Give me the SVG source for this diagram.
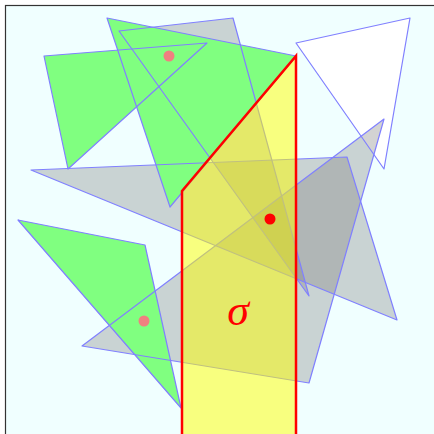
<svg xmlns="http://www.w3.org/2000/svg" width="434" height="434" viewBox="0 0 434 434">
<style>
.tri{stroke:none}
.edge{fill:none;stroke:#8080ff;stroke-width:1.2;stroke-linejoin:round}
.green{fill:#80ff80}
.gray{fill:#808080;fill-opacity:0.35}
.white{fill:#ffffff}
</style>
<rect x="5.5" y="5.5" width="430" height="430" fill="#f0ffff" stroke="#333" stroke-width="1.2"/>
<g id="fills">
<polygon id="t4" class="tri white" points="296,43 410,18 384,169"/>
<polygon id="t3" class="tri gray" points="119,31 233,18 309,296"/>
<polygon id="t5" class="tri gray" points="31,170 347,157 397,320"/>
<polygon id="t6" class="tri gray" points="384,119 82,346 309,383"/>
<polygon id="t1" class="tri green" points="44,56 207,43 68,169"/>
<polygon id="t2" class="tri green" points="107,18 296,56 170,207"/>
<polygon id="t7" class="tri green" points="18,220 145,245 181,408"/>
</g>
<g id="edges">
<polygon class="edge" points="296,43 410,18 384,169"/>
<polygon class="edge" points="119,31 233,18 309,296"/>
<polygon class="edge" points="31,170 347,157 397,320"/>
<polygon class="edge" points="384,119 82,346 309,383"/>
<polygon class="edge" points="44,56 207,43 68,169"/>
<polygon class="edge" points="107,18 296,56 170,207"/>
<polygon class="edge" points="18,220 145,245 181,408"/>
</g>
<g id="sigma-region">
<polygon points="182,191 296,56 296,436 182,436" fill="#ffff00" fill-opacity="0.5" stroke="#ff0000" stroke-width="2.5" stroke-linejoin="miter"/>
<text x="238" y="325" font-family="Liberation Serif, serif" font-style="italic" font-size="44" fill="#ff0000" text-anchor="middle">σ</text>
</g>
<g id="points">
<circle cx="169" cy="56" r="5.5" fill="#f08080"/>
<circle cx="144" cy="321" r="5.5" fill="#f08080"/>
<circle cx="270" cy="219" r="5.5" fill="#ff0000"/>
</g>
</svg>
